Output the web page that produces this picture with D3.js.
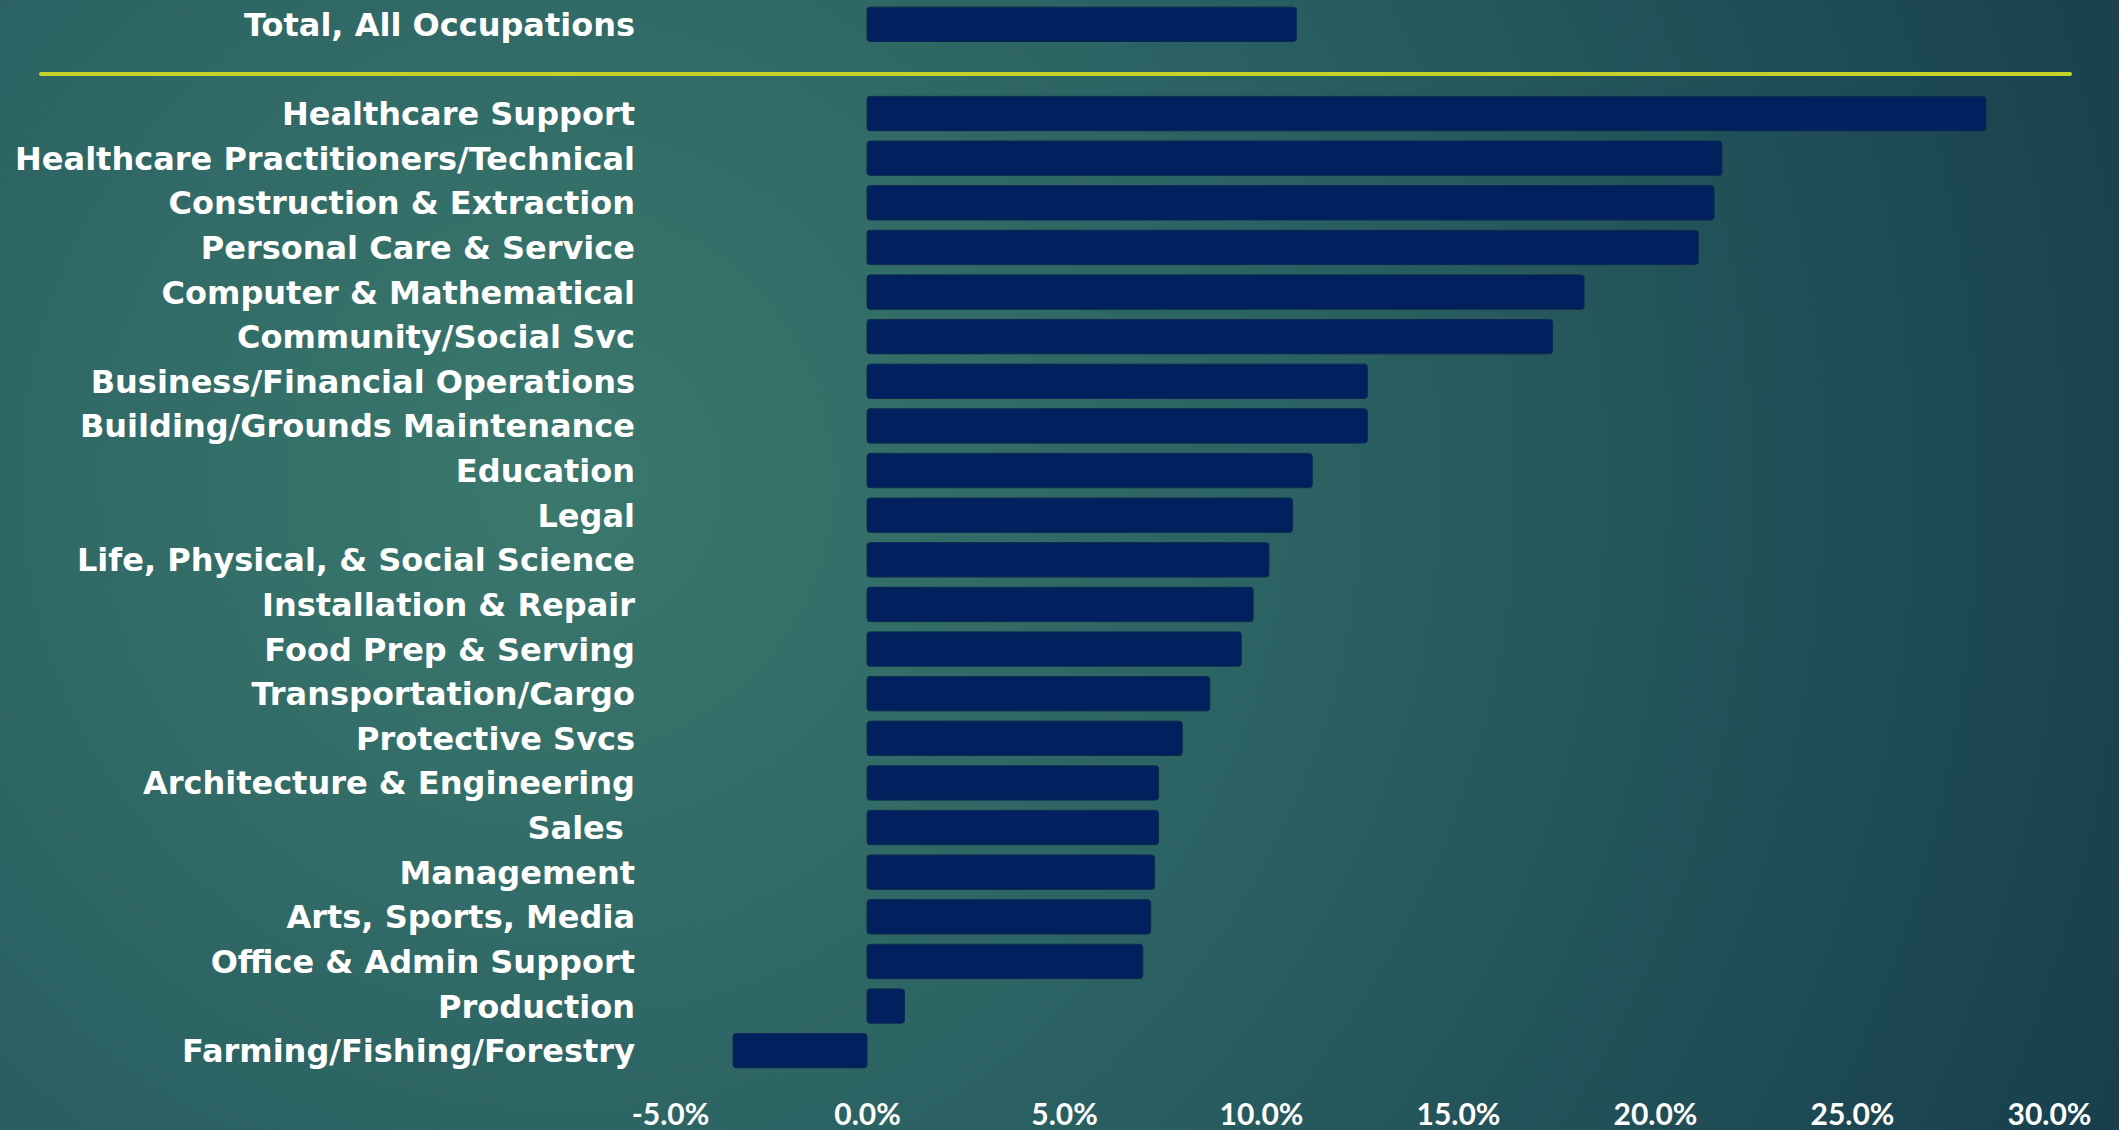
<!DOCTYPE html>
<html>
<head>
<meta charset="utf-8">
<script src="https://cdn.jsdelivr.net/npm/d3@7"></script>
<style>
  html, body { margin: 0; padding: 0; overflow: hidden; }
  svg { display: block; }
</style>
</head>
<body>
<svg id="chart" width="2119" height="1130"></svg>
<script>
// ---- data (percent growth) ----
const totalLabel = "Total, All Occupations";
const totalValue = 10.9;

const occupations = [
  "Healthcare Support",
  "Healthcare Practitioners/Technical",
  "Construction & Extraction",
  "Personal Care & Service",
  "Computer & Mathematical",
  "Community/Social Svc",
  "Business/Financial Operations",
  "Building/Grounds Maintenance",
  "Education",
  "Legal",
  "Life, Physical, & Social Science",
  "Installation & Repair",
  "Food Prep & Serving",
  "Transportation/Cargo",
  "Protective Svcs",
  "Architecture & Engineering",
  "Sales\u00a0",
  "Management",
  "Arts, Sports, Media",
  "Office & Admin Support",
  "Production",
  "Farming/Fishing/Forestry"
];
const growth = [28.4, 21.7, 21.5, 21.1, 18.2, 17.4, 12.7, 12.7, 11.3, 10.8, 10.2, 9.8, 9.5, 8.7, 8.0, 7.4, 7.4, 7.3, 7.2, 7.0, 0.95, -3.4];

const xTicks = [-5, 0, 5, 10, 15, 20, 25, 30];

// ---- setup ----
const svg = d3.select("#chart");
const W = 2119, H = 1130;

// background radial gradient
let defs = svg.append("defs");
let grad = defs.append("radialGradient")
  .attr("id", "bg")
  .attr("gradientUnits", "userSpaceOnUse")
  .attr("cx", 560).attr("cy", 480).attr("r", 1750);
grad.append("stop").attr("offset", "0").attr("stop-color", "#3b786d");
grad.append("stop").attr("offset", "0.45").attr("stop-color", "#2a6062");
grad.append("stop").attr("offset", "1").attr("stop-color", "#163c4b");
svg.append("rect").attr("width", W).attr("height", H).attr("fill", "url(#bg)");

let rows = [totalLabel, ""].concat(occupations);
let data = [{name: totalLabel, v: totalValue}].concat(
  occupations.map((name, i) => ({name: name, v: growth[i]}))
);

let x = d3.scaleLinear().domain([-5, 30]).range([670, 2049]);
let y = d3.scaleBand().domain(rows).range([2, 1073])
  .paddingInner(0.23).paddingOuter(0.115);

// separator line under the total
let sepY = y("") + y.bandwidth() * 0.65;
svg.append("line")
  .attr("x1", 41).attr("x2", 2070)
  .attr("y1", sepY).attr("y2", sepY)
  .attr("stroke", "#c5d22a")
  .attr("stroke-width", 4)
  .attr("stroke-linecap", "round");

// bars
svg.append("g").selectAll("rect")
  .data(data)
  .join("rect")
  .attr("x", d => x(Math.min(0, d.v)))
  .attr("y", d => y(d.name))
  .attr("width", d => Math.abs(x(d.v) - x(0)))
  .attr("height", y.bandwidth())
  .attr("rx", 3)
  .attr("fill", "#01205e")
  .attr("stroke", "#0d2a4e")
  .attr("stroke-width", 1);

// category labels
let yAxis = d3.axisLeft(y).tickSize(0).tickPadding(0);
let gy = svg.append("g")
  .attr("transform", "translate(635,0)")
  .call(yAxis);
gy.select(".domain").remove();
gy.selectAll("text")
  .attr("fill", "#ffffff")
  .attr("font-family", "'Century Gothic', 'DejaVu Sans', sans-serif")
  .attr("font-weight", "bold")
  .attr("font-size", 32)
  .attr("dy", "0.36em")
  .style("white-space", "pre");

// x axis labels
let xAxis = d3.axisBottom(x).tickValues(xTicks)
  .tickSize(0).tickPadding(0)
  .tickFormat(d => d.toFixed(1) + "%");
let gx = svg.append("g")
  .attr("transform", "translate(0,1125)")
  .call(xAxis);
gx.select(".domain").remove();
gx.selectAll("text")
  .attr("fill", "#ffffff")
  .attr("font-family", "Lato, 'Open Sans', sans-serif")
  .attr("font-weight", "bold")
  .attr("font-size", 30)
  .attr("dy", 0)
  .attr("y", 0);
</script>
</body>
</html>
